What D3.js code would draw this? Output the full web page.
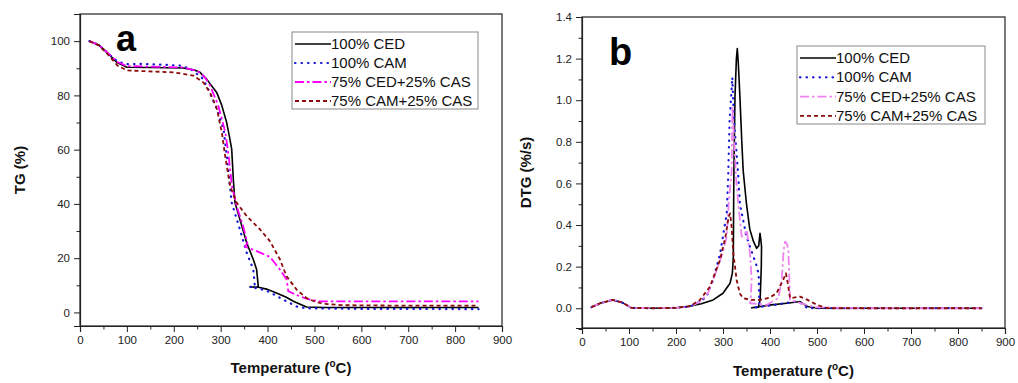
<!DOCTYPE html>
<html><head><meta charset="utf-8">
<script src="https://cdn.jsdelivr.net/npm/d3@7"></script>
<style>
body{margin:0;background:#fff;}
svg text{font-family:"Liberation Sans",Arial,sans-serif;}
</style></head>
<body><svg id="c" width="1018" height="383"></svg>
<script>
// ---------- DATA ----------
const seriesNames = ["100% CED", "100% CAM", "75% CED+25% CAS", "75% CAM+25% CAS"];
const xTicks = [0,100,200,300,400,500,600,700,800,900];
const tgTicks = [0,20,40,60,80,100];
const dtgTicks = [0.0,0.2,0.4,0.6,0.8,1.0,1.2,1.4];

// Panel a: TG (%) vs temperature
const tgCED = [[20,100],[40,98.6],[60,95.5],[78,92.2],[100,90.4],[150,90.3],[220,90.1],[245,89.3],[256,88.5],[270,86],[281,83.5],[291.5,81.1],[302,76.5],[312.8,70],[319,64.5],[323.5,60.2],[327,49],[330.5,40.5],[341,34.3],[355.5,25.7],[369.6,19.5],[376.7,15.8],[380.2,9.6],[378,9.4],[362.5,9.4],[380.9,9.3],[400,8.5],[419,7.2],[440,5.6],[455,4.1],[483,2],[520,1.8],[600,1.8],[700,1.8],[850,1.8]];
const tgCAM = [[20,100],[40,98.6],[60,95.5],[80,92.5],[100,91.5],[135,91.6],[213,91],[235,89.8],[260,86.5],[270,83.6],[292,75],[306,67.6],[313,57.7],[316,52.8],[323.5,40.5],[341,30.6],[355.5,22],[369.6,15.8],[373,9.6],[362.5,9.4],[380,8.8],[398,8],[415,6.5],[433.5,4.7],[462,2.2],[483,1.5],[600,1.3],[700,1.3],[850,1.2]];
const tgCEDCAS = [[20,100],[40,98.6],[60,95.5],[80,92.3],[100,90.8],[150,90.6],[220,90.3],[250,89],[265,87],[277.6,83.6],[295,76.2],[310,66.3],[317,57.7],[324,46.6],[334,39.2],[348,31.8],[357,25.5],[351.8,24.2],[376.6,22.6],[405,20.5],[426.5,15.8],[440.7,12.1],[444.3,7.8],[469,5.9],[490.5,4.7],[512,4.1],[600,4.1],[700,4.1],[850,4.1]];
const tgCAMCAS = [[20,100],[40,98.4],[60,95],[80,91],[100,89.2],[114,89.1],[199,88.5],[242,87.3],[263,84.8],[277.6,81],[292,75],[302.5,66.3],[309.6,57.7],[320,46.6],[334,40.5],[355.5,35.5],[384,30.6],[405,26.3],[426.5,19.5],[440.7,13.3],[462,8.4],[483,5.3],[498,4.2],[512,3.5],[527,3.1],[555,2.7],[600,2.6],[700,2.5],[850,2.5]];

// Panel b: DTG (%/s) vs temperature
const dtgCED = [[20,0.005],[40,0.025],[65,0.04],[85,0.028],[105,0.002],[150,0],[200,0.002],[225,0.008],[254,0.022],[279,0.04],[300,0.072],[315,0.12],[320,0.17],[322,0.25],[322.5,0.45],[323,0.62],[325.5,1.016],[328.5,1.2],[330.4,1.248],[332.5,1.18],[336,1.016],[340,0.8],[343,0.66],[350,0.5],[357,0.38],[365,0.32],[371.7,0.288],[376,0.3],[378.7,0.36],[380.5,0.33],[382,0.296],[381.5,0.2],[379,0.04],[375,0.005],[361,0.002],[402.6,0.016],[440,0.025],[464,0.032],[480,0.008],[502,0],[600,0],[700,0],[850,0]];
const dtgCAM = [[20,0.005],[40,0.025],[65,0.04],[85,0.028],[105,0.002],[150,0],[200,0.002],[230,0.008],[250,0.03],[265,0.056],[279,0.136],[294,0.264],[308,0.456],[311,0.63],[314,0.9],[319.8,1.11],[323,0.92],[332.6,0.63],[336,0.5],[350,0.344],[364.5,0.25],[372,0.2],[376,0.16],[377,0.06],[377.5,0.008],[363.6,0.002],[410,0.016],[452,0.032],[466,0.024],[480,0],[600,0],[700,0],[850,0]];
const dtgCEDCAS = [[20,0.005],[40,0.025],[65,0.04],[85,0.028],[105,0.002],[150,0],[200,0.002],[230,0.008],[250,0.03],[268,0.072],[286.6,0.184],[300,0.27],[307.8,0.344],[312,0.5],[318.5,0.664],[320,0.97],[323,0.84],[328,0.62],[332.6,0.5],[339.8,0.344],[345,0.35],[350.4,0.376],[357.4,0.264],[361,0.136],[359,0.05],[357.4,0.024],[393,0.016],[417.7,0.048],[425,0.136],[429,0.28],[432,0.32],[436,0.31],[439,0.28],[442.6,0.04],[466,0.024],[495,0.005],[600,0],[700,0],[850,0]];
const dtgCAMCAS = [[20,0.005],[40,0.025],[65,0.04],[85,0.028],[105,0.002],[150,0],[200,0.002],[230,0.01],[251,0.04],[272.3,0.104],[293.6,0.232],[305,0.34],[312,0.44],[315,0.456],[318,0.4],[322,0.264],[329,0.136],[336,0.07],[343,0.048],[360,0.04],[378.7,0.04],[398,0.05],[414,0.072],[428,0.136],[434,0.168],[439,0.104],[442.6,0.048],[463.8,0.056],[480,0.04],[500,0.016],[523,0],[600,0],[700,0],[850,0]];

// ---------- STYLES ----------
const stylesA = [
  {color:"#000000", width:1.6, dash:null, cap:"butt"},
  {color:"#1a1ad6", width:2.2, dash:"0.5,6", cap:"round"},
  {color:"#ff00ff", width:1.8, dash:"9,3,2.5,3", cap:"butt"},
  {color:"#8b0a0a", width:1.8, dash:"4,3", cap:"butt"}
];
const stylesB = [
  {color:"#000000", width:1.6, dash:null, cap:"butt"},
  {color:"#1a1ad6", width:2.2, dash:"0.5,6", cap:"round"},
  {color:"#ee82ee", width:1.8, dash:"9,3,2.5,3", cap:"butt"},
  {color:"#8b0a0a", width:1.8, dash:"4,3", cap:"butt"}
];

const svg = d3.select("#c");

function panel(cfg){
  const g = svg.append("g");
  const x = d3.scaleLinear().domain([0,900]).range([cfg.left, cfg.right]);
  const y = d3.scaleLinear().domain(cfg.ydom).range([cfg.bottom, cfg.top]);

  g.append("rect").attr("x",cfg.left).attr("y",cfg.top)
    .attr("width",cfg.right-cfg.left).attr("height",cfg.bottom-cfg.top)
    .attr("fill","none").attr("stroke","#222").attr("stroke-width",1.2);

  g.append("g").attr("transform",`translate(0,${cfg.bottom})`)
    .call(d3.axisBottom(x).tickValues(xTicks).tickSize(6).tickPadding(4).tickFormat(d3.format("d")));
  g.append("g").attr("transform",`translate(0,${cfg.bottom})`)
    .call(d3.axisBottom(x).tickValues(d3.range(50,900,100)).tickSize(3.5).tickFormat(""))
    .select(".domain").remove();
  g.append("g").attr("transform",`translate(${cfg.left},0)`)
    .call(d3.axisLeft(y).tickValues(cfg.yticks).tickSize(6).tickPadding(4).tickFormat(cfg.yfmt));
  g.append("g").attr("transform",`translate(${cfg.left},0)`)
    .call(d3.axisLeft(y).tickValues(cfg.yminor).tickSize(3.5).tickFormat(""))
    .select(".domain").remove();
  g.selectAll(".domain").attr("stroke","#222").attr("stroke-width",1.2);
  g.selectAll(".tick line").attr("stroke","#222");
  g.selectAll(".tick text").attr("font-size",11.5).attr("fill","#222")
    .style("font-family","'Liberation Sans',Arial,sans-serif");

  const line = d3.line().x(d=>x(d[0])).y(d=>y(d[1]));
  cfg.data.forEach((d,i)=>{
    const s = cfg.styles[i];
    g.append("path").datum(d).attr("d",line).attr("fill","none")
      .attr("stroke",s.color).attr("stroke-width",s.width)
      .attr("stroke-dasharray",s.dash).attr("stroke-linecap",s.cap)
      .attr("stroke-linejoin","round");
  });

  const L = cfg.legend;
  g.append("rect").attr("x",L.x).attr("y",L.y).attr("width",L.w).attr("height",L.h)
    .attr("fill","#fff").attr("stroke","#888").attr("stroke-width",1);
  seriesNames.forEach((n,i)=>{
    const s = cfg.styles[i];
    const yy = L.y + L.row0 + i*L.dy;
    g.append("line").attr("x1",L.x+3).attr("x2",L.x+39).attr("y1",yy).attr("y2",yy)
      .attr("stroke",s.color).attr("stroke-width",s.width)
      .attr("stroke-dasharray",s.dash).attr("stroke-linecap",s.cap);
    g.append("text").attr("x",L.x+39).attr("y",yy+5).attr("font-size",15)
      .attr("fill","#111").text(n);
  });

  g.append("text").attr("x",cfg.letter.x).attr("y",cfg.letter.y)
    .attr("font-size",cfg.letter.size).attr("font-weight","bold")
    .style("font-family","Arial,'Liberation Sans',sans-serif").text(cfg.letter.t);

  const xt = g.append("text").attr("x",(cfg.left+cfg.right)/2).attr("y",cfg.xtY)
    .attr("text-anchor","middle").attr("font-size",15).attr("font-weight","bold").attr("fill","#111");
  xt.append("tspan").text("Temperature (");
  xt.append("tspan").attr("font-size",10).attr("dy",-6).text("o");
  xt.append("tspan").attr("dy",6).text("C)");
  g.append("text").attr("transform",`translate(${cfg.ytX},${(cfg.top+cfg.bottom)/2}) rotate(-90)`)
    .attr("text-anchor","middle").attr("font-size",15).attr("font-weight","bold").attr("fill","#111")
    .text(cfg.ytitle);
}

panel({
  left:80, right:502, top:14, bottom:326,
  ydom:[-5,110], yticks:tgTicks, yminor:d3.range(10,110,20), yfmt:d3.format("d"),
  data:[tgCED,tgCAM,tgCEDCAS,tgCAMCAS], styles:stylesA,
  legend:{x:292,y:32,w:186,h:77,row0:12,dy:19},
  letter:{x:116,y:51,size:36,t:"a"},
  xtY:373, ytX:25, ytitle:"TG (%)"
});

panel({
  left:582, right:1005, top:17, bottom:328,
  ydom:[-0.095,1.4], yticks:dtgTicks, yminor:d3.range(-0.1,1.35,0.2).map(v=>+v.toFixed(1)), yfmt:d3.format(".1f"),
  data:[dtgCED,dtgCAM,dtgCEDCAS,dtgCAMCAS], styles:stylesB,
  legend:{x:797,y:46,w:188,h:78,row0:12,dy:19.3},
  letter:{x:609,y:65,size:38,t:"b"},
  xtY:376, ytX:531, ytitle:"DTG (%/s)"
});
</script></body></html>
